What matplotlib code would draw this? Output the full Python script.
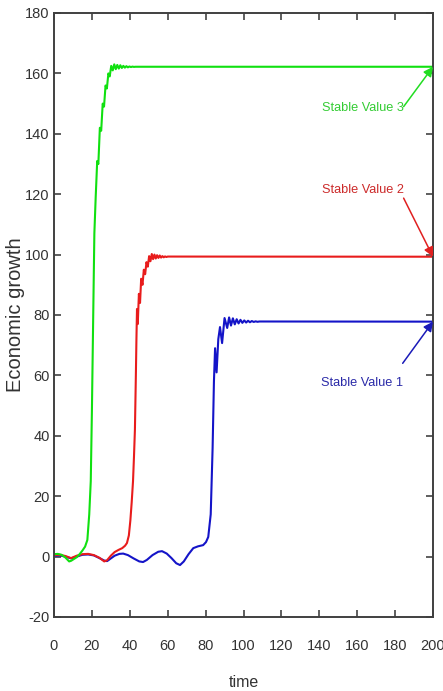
import matplotlib
matplotlib.use("Agg")
import matplotlib.pyplot as plt

# green run (stable value 3)
t_green = [0, 2, 4, 6, 8, 9, 10.5, 12, 13.5, 15, 16.4, 17.6, 18.6, 19.4, 20, 20.7, 21.3,
           22, 22.8, 23.4, 24.2, 24.9, 25.7, 26.4, 27.2, 27.9, 28.7, 29.4, 30.2, 31, 31.8,
           32.6, 33.4, 34.2, 35, 35.8, 36.6, 37.4, 38.2, 39, 39.8, 40.6, 41.4, 42.2, 43, 200]
y_green = [0.8, 0.9, 0.6, -0.3, -1.6, -1.4, -0.8, -0.2, 0.8, 2, 3.3, 5.5, 14, 25, 48, 80, 107,
           119, 131, 130, 142, 141, 150, 149, 156, 155, 160, 159, 162.5, 161, 163,
           161.4, 162.8, 161.6, 162.7, 161.8, 162.5, 161.9, 162.4, 162, 162.3, 162.1, 162.25, 162.15, 162.2, 162.2]

# red run (stable value 2)
t_red = [0, 3, 6, 9, 12, 15, 18, 21, 24, 26.5, 28, 30, 32, 34, 36, 37.5, 38.5, 39.5, 40.3,
         41, 41.7, 42.2, 42.7, 43.2, 43.5, 43.8, 44.2, 44.8, 45.4, 46, 46.7, 47.4, 48.1,
         48.8, 49.5, 50.2, 50.9, 51.6, 52.3, 53, 53.7, 54.4, 55.1, 55.8, 56.5, 57.2, 57.9,
         58.6, 59.3, 60, 200]
y_red = [0.5, 0.6, 0.2, -0.5, 0.3, 0.8, 0.9, 0.5, -0.4, -1.6, -1.2, 0.3, 1.5, 2.2, 2.8, 3.6, 4.5, 7, 12,
         18, 25, 33, 42, 60, 72, 82, 77, 87, 84, 92, 90, 95, 93.5,
         97.5, 96, 99.5, 97.8, 100.2, 98.5, 100, 98.7, 99.8, 98.9, 99.7, 99.0, 99.5, 99.1,
         99.4, 99.2, 99.35, 99.3]

# blue run (stable value 1)
t_blue = [0, 3, 6, 9, 12, 15, 18, 21, 24, 26.5, 28, 30, 32, 34.5, 36.5, 39, 42, 45, 47, 49,
          52, 55, 57, 59.5, 62, 64.5, 66.5, 68.5, 71, 73.5, 76, 78.7, 80.2, 81.4, 82.7, 83.7,
          84.4, 85, 85.8, 86.7, 87.6, 88.7, 90, 91.4, 92.4, 93.4, 94.4, 95.4, 96.4, 97.4,
          98.4, 99.4, 100.4, 101.4, 102.4, 103.4, 104.4, 105.4, 106.4, 107.4, 108.4, 200]
y_blue = [0.3, 0.4, 0, -0.6, 0, 0.6, 0.7, 0.4, -0.5, -1.3, -1.5, -0.6, 0.3, 0.9, 1, 0.5, -0.6, -1.6, -1.8, -1.1,
          0.5, 1.6, 1.8, 1, -0.5, -2.2, -2.8, -1.6, 0.8, 2.8, 3.4, 3.8, 4.8, 6.5, 14, 36,
          58, 69, 61, 72, 76, 70.7, 79, 75.7, 79.2, 76.5, 78.9, 76.9, 78.6, 77.2,
          78.4, 77.4, 78.2, 77.5, 78.1, 77.6, 78, 77.7, 77.9, 77.75, 77.85, 77.8]

xticks = list(range(0, 201, 20))
yticks = list(range(-20, 181, 20))

plt.rcParams["font.family"] = ["Liberation Sans", "DejaVu Sans"]
plt.rcParams["axes.unicode_minus"] = False

fig = plt.figure(figsize=(4.43, 6.91), dpi=100)
ax = fig.add_axes([54 / 443, 74 / 691, 379 / 443, 604 / 691])

ax.plot(t_blue, y_blue, color="#1414c8", lw=1.5)
ax.plot(t_red, y_red, color="#e81c1c", lw=1.5)
ax.plot(t_green, y_green, color="#10e010", lw=1.5)

ax.set_xlim(0, 200)
ax.set_ylim(-20, 180)
ax.set_xticks(xticks)
ax.set_yticks(yticks)
ax.tick_params(direction="in", length=5, width=1.1, top=True, right=True,
               labelsize=10.5, labelcolor="#333333", color="#333333")
ax.tick_params(axis="x", pad=16)
ax.tick_params(axis="y", pad=3)
for s in ax.spines.values():
    s.set_color("#404040")
    s.set_linewidth(1.4)

ax.set_xlabel("time", fontsize=11.5, color="#333333", labelpad=16)
ax.set_ylabel("Economic growth", fontsize=14.5, color="#333333")
ax.yaxis.set_label_coords(-0.077, 0.5)

# annotations
ax.text(184.5, 148.5, "Stable Value 3", color="#33cc33", fontsize=9.2, ha="right", va="center")
ax.annotate("", xy=(200, 162.2), xytext=(184.5, 149),
            arrowprops=dict(arrowstyle="-|>", color="#22dd22", lw=1.1, mutation_scale=14,
                            shrinkA=0, shrinkB=0))
ax.text(184.5, 121.3, "Stable Value 2", color="#cc2a2a", fontsize=9.2, ha="right", va="center")
ax.annotate("", xy=(200, 99.3), xytext=(184.5, 118.7),
            arrowprops=dict(arrowstyle="-|>", color="#e02020", lw=1.1, mutation_scale=14,
                            shrinkA=0, shrinkB=0))
ax.text(184, 57.5, "Stable Value 1", color="#2a2aa8", fontsize=9.2, ha="right", va="center")
ax.annotate("", xy=(200, 77.8), xytext=(184, 64),
            arrowprops=dict(arrowstyle="-|>", color="#1a1ab8", lw=1.1, mutation_scale=14,
                            shrinkA=0, shrinkB=0))

fig.savefig("out.png", dpi=100, facecolor="white")
